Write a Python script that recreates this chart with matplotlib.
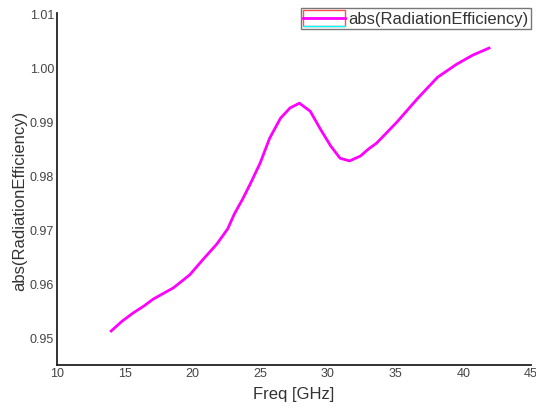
import matplotlib.pyplot as plt
from matplotlib.lines import Line2D
from matplotlib.patches import Rectangle

plt.rcParams['font.family'] = ['Liberation Sans', 'DejaVu Sans']

# values
freq = [14.0, 14.8, 15.6, 16.4, 17.1, 18.6, 19.8, 20.8, 21.8, 22.6, 23.1, 23.7, 24.3,
        25.0, 25.7, 26.5, 27.2, 27.9, 28.7, 29.4, 30.2, 30.9, 31.6, 32.4, 33.0, 33.6,
        35.1, 36.6, 38.1, 39.5, 40.7, 41.9]
eff = [0.9513, 0.9531, 0.9546, 0.9559, 0.9572, 0.9593, 0.9617, 0.9646, 0.9674, 0.9702,
       0.9730, 0.9757, 0.9787, 0.9824, 0.9870, 0.9907, 0.9926, 0.9935, 0.9920, 0.9889,
       0.9856, 0.9833, 0.9828, 0.9837, 0.9850, 0.9861, 0.9900, 0.9943, 0.9983, 1.0007,
       1.0024, 1.0037]
xticks = [10, 15, 20, 25, 30, 35, 40, 45]
yticks = [0.95, 0.96, 0.97, 0.98, 0.99, 1.00, 1.01]


class BoxLineHandler:
    # red frame, magenta line in the middle, cyan line on the bottom edge
    def legend_artist(self, legend, orig_handle, fontsize, handlebox):
        x0, y0 = -handlebox.xdescent, -handlebox.ydescent
        w, h = handlebox.width, handlebox.height
        tr = handlebox.get_transform()
        handlebox.add_artist(Rectangle((x0, y0), w, h, fc='none', ec='#ff5050', lw=1, transform=tr))
        handlebox.add_artist(Line2D([x0, x0 + w], [y0 + h / 2] * 2, color='#ff00ff', lw=2, transform=tr))
        handlebox.add_artist(Line2D([x0, x0 + w], [y0] * 2, color='#00ffff', lw=1, transform=tr))
        return handlebox


fig = plt.figure(figsize=(5.36, 4.09), dpi=100)
ax = fig.add_axes([57/536, 44/409, 474/536, 352/409])

line, = ax.plot(freq, eff, color='#ff00ff', lw=2)

ax.set_xlim(10, 45)
ax.set_ylim(0.945, 1.0102)
ax.set_xticks(xticks)
ax.set_xticklabels([str(t) for t in xticks])
ax.set_yticks(yticks)
ax.set_yticklabels(['%.2f' % t for t in yticks])
ax.tick_params(length=0, labelsize=9, labelcolor='#444444', pad=2)

for s in ['top', 'right']:
    ax.spines[s].set_visible(False)
for s in ['left', 'bottom']:
    ax.spines[s].set_linewidth(1.3)
    ax.spines[s].set_color('#222222')

ax.set_xlabel('Freq [GHz]', fontsize=12, color='#333333', labelpad=5)
ax.set_ylabel('abs(RadiationEfficiency)', fontsize=12, color='#333333')
ax.yaxis.set_label_coords(-0.063, 0.466)

leg = ax.legend([line], ['abs(RadiationEfficiency)'],
                handler_map={Line2D: BoxLineHandler()},
                loc='upper right', bbox_to_anchor=(1.0, 1.015), fontsize=12,
                frameon=True, fancybox=False, borderpad=0.15, handlelength=2.5,
                handleheight=1.1, handletextpad=0.2, borderaxespad=0)
leg.get_frame().set_edgecolor('#555555')
leg.get_frame().set_linewidth(1)
for t in leg.get_texts():
    t.set_color('#333333')

fig.savefig('out.png', dpi=100)
